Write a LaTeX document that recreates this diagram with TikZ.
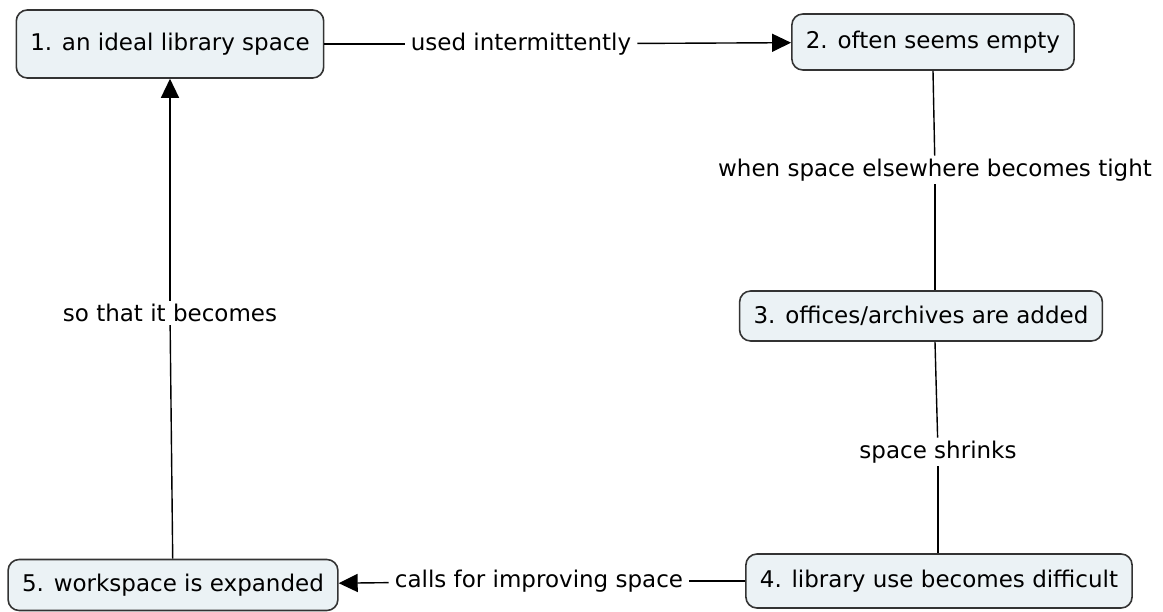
\documentclass[tikz,border=0pt]{standalone}
\usepackage{fontspec}
\setmainfont{DejaVu Sans}
\usetikzlibrary{arrows.meta}
\definecolor{conceptfill}{HTML}{EBF2F5}
\definecolor{conceptline}{HTML}{333333}

\begin{document}
\begin{tikzpicture}[x=1pt,y=-1pt,
    concept/.style={draw=conceptline, line width=1.6pt, fill=conceptfill,
        rounded corners=11pt, inner xsep=14pt, minimum height=52pt,
        font=\fontsize{23}{27}\selectfont},
    linkword/.style={fill=white, inner xsep=6pt, inner ysep=3pt,
        font=\fontsize{23}{27}\selectfont},
    link/.style={draw=black, line width=1.4pt},
    tip/.style={link, -{Triangle[length=19pt,width=18pt]}}]
    \useasboundingbox (0,0) rectangle (1163,612);
    % the concepts
    \node [concept, minimum height=68pt] (lib) at (170,44) {1. an ideal library space};
    \node [concept, minimum height=56pt] (empty) at (933,42) {2. often seems empty};
    \node [concept, minimum height=50pt] (added) at (921,316) {3. offices/archives are added};
    \node [concept, minimum height=54pt] (hard) at (939,581) {4. library use becomes difficult};
    \node [concept, minimum height=51pt] (work) at (173,585) {5. workspace is expanded};
    % the linking phrases
    \node [linkword] (used) at (521,44) {used intermittently};
    \node [linkword] (tight) at (935,170) {when space elsewhere becomes tight};
    \node [linkword] (shrink) at (938,452) {space shrinks};
    \node [linkword] (calls) at (539,581) {calls for improving space};
    \node [linkword] (so) at (170,313) {so that it becomes};
    % the links
    \draw [link] (lib) -- (used);
    \draw [tip] (used) -- (empty);
    \draw [link] (empty.south) -- (tight);
    \draw [link] (tight) -- (tight |- added.north);
    \draw [link] (tight |- added.south) -- (shrink);
    \draw [link] (shrink) -- (shrink |- hard.north);
    \draw [link] (hard) -- (calls);
    \draw [tip] (calls) -- (work);
    \draw [link] (work) -- (so);
    \draw [tip] (so) -- (lib);
\end{tikzpicture}
\end{document}
